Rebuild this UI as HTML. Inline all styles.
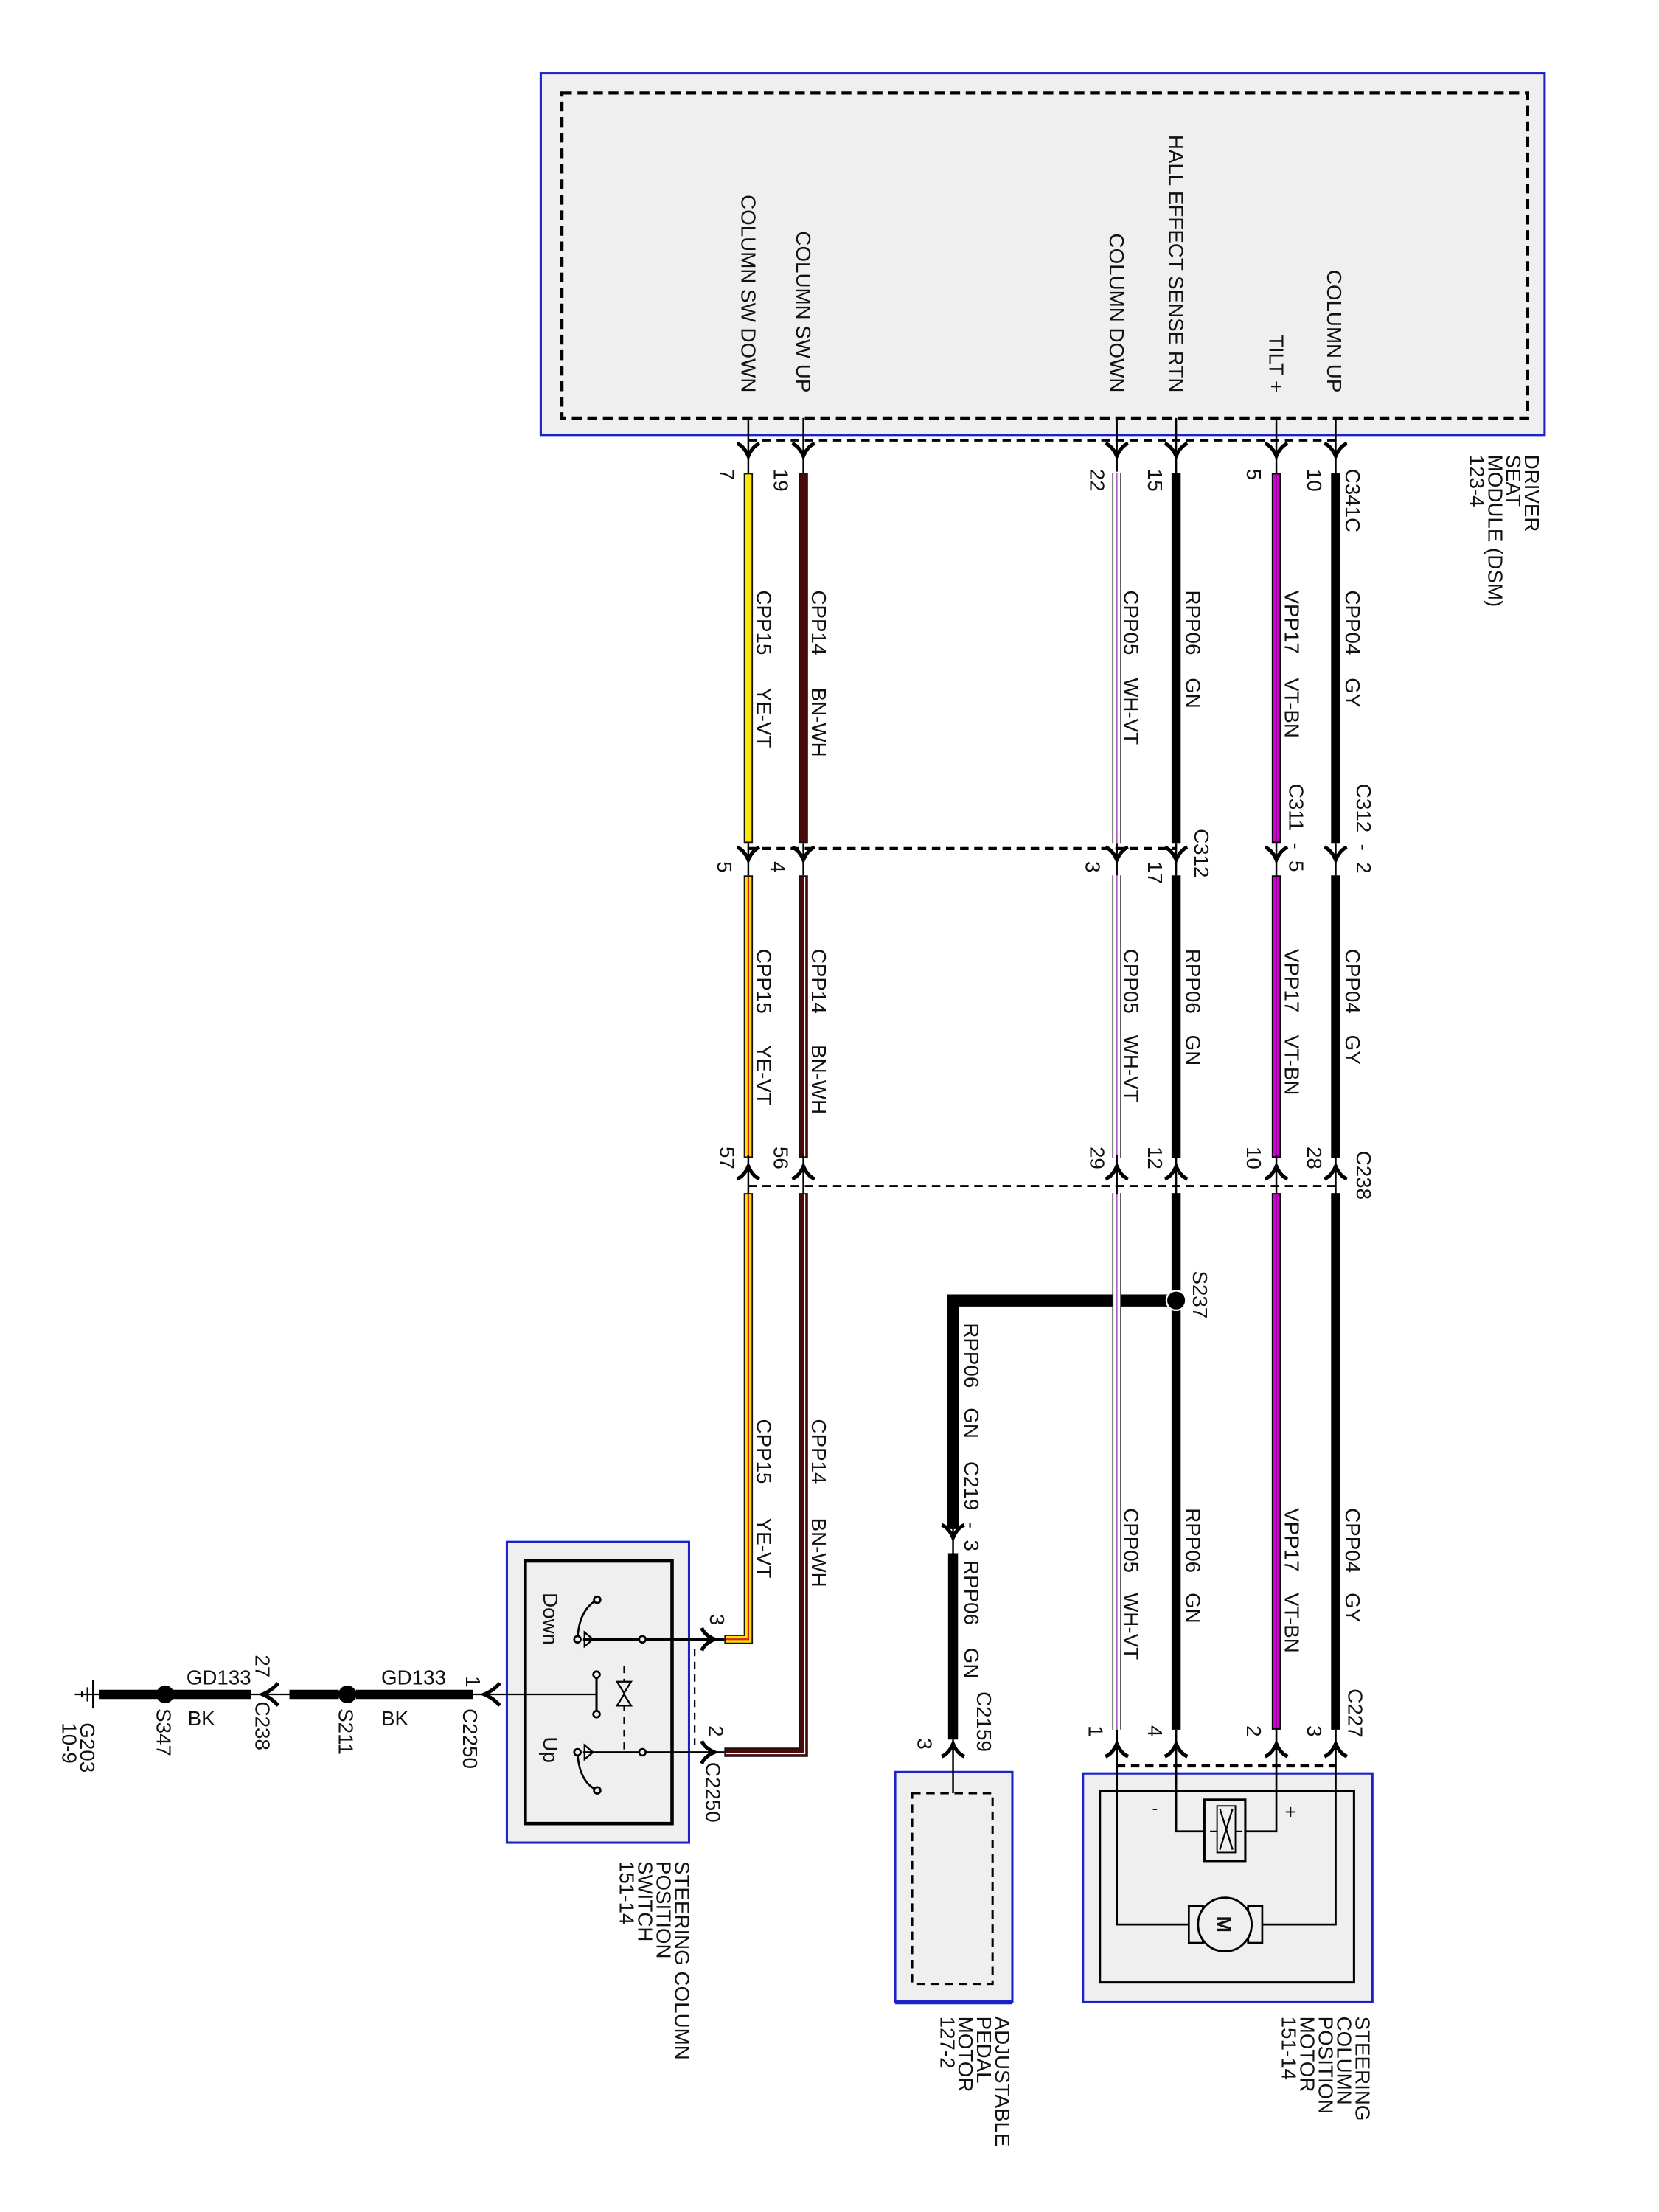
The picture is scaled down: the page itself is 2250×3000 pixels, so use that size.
<!DOCTYPE html>
<html><head><meta charset="utf-8"><style>
html,body{margin:0;padding:0;background:#fff;}
svg{display:block;}
text{font-family:"Liberation Sans",Arial,sans-serif;font-size:14.5px;fill:#111;}
</style></head><body>
<svg width="2250" height="3000" viewBox="0 0 1175 1566.6" preserveAspectRatio="none" xmlns="http://www.w3.org/2000/svg">
<rect x="0" y="0" width="1175" height="1567" fill="#fff"/>

<!-- Driver seat module -->
<rect x="383" y="52" width="711" height="256" fill="#efefef" stroke="#1a22c8" stroke-width="1.6"/>
<rect x="398" y="66" width="684" height="230" fill="none" stroke="#000" stroke-width="2.2" stroke-dasharray="7,4"/>
<g transform="translate(940,278) rotate(90)"><text text-anchor="end" x="0" y="0" transform="rotate(0)">COLUMN UP</text></g>
<text transform="translate(940,278) rotate(90)" text-anchor="end" style="display:none">x</text>
<text transform="translate(899,278) rotate(90)" text-anchor="end">TILT +</text>
<text transform="translate(828,278) rotate(90)" text-anchor="end">HALL EFFECT SENSE RTN</text>
<text transform="translate(786,278) rotate(90)" text-anchor="end">COLUMN DOWN</text>
<text transform="translate(564,278) rotate(90)" text-anchor="end">COLUMN SW UP</text>
<text transform="translate(525,278) rotate(90)" text-anchor="end">COLUMN SW DOWN</text>

<text transform="translate(1080,322) rotate(90)">DRIVER</text>
<text transform="translate(1067,322) rotate(90)">SEAT</text>
<text transform="translate(1054,322) rotate(90)">MODULE (DSM)</text>
<text transform="translate(1041,322) rotate(90)">123-4</text>

<!-- stems from module -->
<g stroke="#000" stroke-width="1.3">
<line x1="946" y1="296" x2="946" y2="336"/><line x1="904" y1="296" x2="904" y2="336"/>
<line x1="833" y1="296" x2="833" y2="336"/><line x1="791" y1="296" x2="791" y2="336"/>
<line x1="569" y1="296" x2="569" y2="336"/><line x1="530" y1="296" x2="530" y2="336"/>
</g>
<line x1="530" y1="312" x2="946" y2="312" stroke="#000" stroke-width="1.5" stroke-dasharray="6,4"/>
<!-- down arrows row 1 -->
<g fill="none" stroke="#000" stroke-width="2.6" stroke-linejoin="miter">
<path d="M938,314 Q943,316 946,323 Q949,316 954,314"/>
<path d="M896,314 Q901,316 904,323 Q907,316 912,314"/>
<path d="M825,314 Q830,316 833,323 Q836,316 841,314"/>
<path d="M783,314 Q788,316 791,323 Q794,316 799,314"/>
<path d="M561,314 Q566,316 569,323 Q572,316 577,314"/>
<path d="M522,314 Q527,316 530,323 Q533,316 538,314"/>
</g>

<text transform="translate(953,332) rotate(90)">C341C</text>
<text transform="translate(926,332) rotate(90)">10</text>
<text transform="translate(883,332) rotate(90)">5</text>
<text transform="translate(813,332) rotate(90)">15</text>
<text transform="translate(772,332) rotate(90)">22</text>
<text transform="translate(548,332) rotate(90)">19</text>
<text transform="translate(510,332) rotate(90)">7</text>

<!-- WIRES -->
<!-- col up (black) -->
<g stroke="#000" stroke-width="6.5" fill="none">
<line x1="946" y1="335" x2="946" y2="597"/><line x1="946" y1="620" x2="946" y2="820"/><line x1="946" y1="845" x2="946" y2="1225"/>
<line x1="833" y1="335" x2="833" y2="597"/><line x1="833" y1="620" x2="833" y2="820"/><line x1="833" y1="845" x2="833" y2="1225"/>
<polyline points="833,921 675,921 675,1083" stroke-width="8.5"/>
<line x1="675" y1="1100" x2="675" y2="1232" stroke-width="7"/>
</g>
<!-- tilt VT-BN -->
<g fill="none">
<g stroke="#000" stroke-width="6.5"><line x1="904" y1="335" x2="904" y2="597"/><line x1="904" y1="620" x2="904" y2="820"/><line x1="904" y1="845" x2="904" y2="1225"/></g>
<g stroke="#d000d0" stroke-width="4.5"><line x1="904" y1="336" x2="904" y2="596"/><line x1="904" y1="621" x2="904" y2="819"/><line x1="904" y1="846" x2="904" y2="1224"/></g>
<g stroke="#7a0a7a" stroke-width="0.7"><line x1="904" y1="336" x2="904" y2="596"/><line x1="904" y1="621" x2="904" y2="819"/><line x1="904" y1="846" x2="904" y2="1224"/></g>
</g>
<!-- col down WH-VT -->
<g fill="none">
<g stroke="#222" stroke-width="6.5"><line x1="791" y1="335" x2="791" y2="597"/><line x1="791" y1="620" x2="791" y2="820"/><line x1="791" y1="845" x2="791" y2="1225"/></g>
<g stroke="#fff" stroke-width="4.8"><line x1="791" y1="334" x2="791" y2="598"/><line x1="791" y1="619" x2="791" y2="821"/><line x1="791" y1="844" x2="791" y2="1226"/></g>
<g stroke="#b060c0" stroke-width="1"><line x1="791" y1="335" x2="791" y2="597"/><line x1="791" y1="620" x2="791" y2="820"/><line x1="791" y1="845" x2="791" y2="1225"/></g>
</g>
<!-- sw up BN-WH -->
<g fill="none">
<g stroke="#111" stroke-width="6.5"><line x1="569" y1="335" x2="569" y2="597"/><line x1="569" y1="620" x2="569" y2="820"/><polyline points="569,845 569,1241 513,1241"/></g>
<g stroke="#4e0a0a" stroke-width="4.5"><line x1="569" y1="336" x2="569" y2="596"/><line x1="569" y1="621" x2="569" y2="819"/><polyline points="569,846 569,1241 514,1241"/></g>
<g stroke="#fff" stroke-width="0.7"><line x1="570" y1="621" x2="570" y2="819"/><polyline points="570,846 570,1242 514,1242"/></g>
</g>
<!-- sw down YE-VT -->
<g fill="none">
<g stroke="#111" stroke-width="6.5"><line x1="530" y1="335" x2="530" y2="597"/><line x1="530" y1="620" x2="530" y2="820"/><polyline points="530,845 530,1161 513,1161"/></g>
<g stroke="#ffe600" stroke-width="4.6"><line x1="530" y1="336" x2="530" y2="596"/><line x1="530" y1="621" x2="530" y2="819"/><polyline points="530,846 530,1161 514,1161"/></g>
<g stroke="#e02020" stroke-width="1.2"><line x1="530" y1="621" x2="530" y2="819"/><polyline points="530,846 530,1161 514,1161"/></g>
</g>

<!-- segment 1 labels -->
<text transform="translate(953,418) rotate(90)">CPP04</text><text transform="translate(953,480) rotate(90)">GY</text>
<text transform="translate(910,418) rotate(90)">VPP17</text><text transform="translate(910,480) rotate(90)">VT-BN</text>
<text transform="translate(840,418) rotate(90)">RPP06</text><text transform="translate(840,480) rotate(90)">GN</text>
<text transform="translate(796,418) rotate(90)">CPP05</text><text transform="translate(796,480) rotate(90)">WH-VT</text>
<text transform="translate(575,418) rotate(90)">CPP14</text><text transform="translate(575,487) rotate(90)">BN-WH</text>
<text transform="translate(536,418) rotate(90)">CPP15</text><text transform="translate(536,487) rotate(90)">YE-VT</text>

<text transform="translate(961,555) rotate(90)" xml:space="preserve">C312  -  2</text>
<text transform="translate(913,555) rotate(90)" xml:space="preserve">C311  -  5</text>
<text transform="translate(846,587) rotate(90)">C312</text>

<!-- C312 connectors -->
<g stroke="#000" stroke-width="1.3">
<line x1="946" y1="597" x2="946" y2="620"/><line x1="904" y1="597" x2="904" y2="620"/><line x1="833" y1="597" x2="833" y2="620"/><line x1="791" y1="597" x2="791" y2="620"/><line x1="569" y1="597" x2="569" y2="620"/><line x1="530" y1="597" x2="530" y2="620"/>
</g>
<line x1="530" y1="601" x2="833" y2="601" stroke="#000" stroke-width="2.2" stroke-dasharray="6,4"/>
<g fill="none" stroke="#000" stroke-width="2.6">
<path d="M938,600 Q943,602 946,609 Q949,602 954,600"/>
<path d="M896,600 Q901,602 904,609 Q907,602 912,600"/>
<path d="M825,600 Q830,602 833,609 Q836,602 841,600"/>
<path d="M783,600 Q788,602 791,609 Q794,602 799,600"/>
<path d="M561,600 Q566,602 569,609 Q572,602 577,600"/>
<path d="M522,600 Q527,602 530,609 Q533,602 538,600"/>
</g>
<text transform="translate(813,610) rotate(90)">17</text>
<text transform="translate(769,610) rotate(90)">3</text>
<text transform="translate(546,610) rotate(90)">4</text>
<text transform="translate(508,610) rotate(90)">5</text>

<!-- segment 2 labels -->
<text transform="translate(953,672) rotate(90)">CPP04</text><text transform="translate(953,733) rotate(90)">GY</text>
<text transform="translate(910,672) rotate(90)">VPP17</text><text transform="translate(910,733) rotate(90)">VT-BN</text>
<text transform="translate(840,672) rotate(90)">RPP06</text><text transform="translate(840,733) rotate(90)">GN</text>
<text transform="translate(796,672) rotate(90)">CPP05</text><text transform="translate(796,733) rotate(90)">WH-VT</text>
<text transform="translate(575,672) rotate(90)">CPP14</text><text transform="translate(575,740) rotate(90)">BN-WH</text>
<text transform="translate(536,672) rotate(90)">CPP15</text><text transform="translate(536,740) rotate(90)">YE-VT</text>

<!-- C238 connectors (up) -->
<g stroke="#000" stroke-width="1.3">
<line x1="946" y1="818" x2="946" y2="846"/><line x1="904" y1="818" x2="904" y2="846"/><line x1="833" y1="818" x2="833" y2="846"/><line x1="791" y1="818" x2="791" y2="846"/><line x1="569" y1="818" x2="569" y2="846"/><line x1="530" y1="818" x2="530" y2="846"/>
</g>
<line x1="530" y1="840" x2="946" y2="840" stroke="#000" stroke-width="1.5" stroke-dasharray="6,4"/>
<g fill="none" stroke="#000" stroke-width="2.6">
<path d="M938,835 Q943,833 946,826 Q949,833 954,835"/>
<path d="M896,835 Q901,833 904,826 Q907,833 912,835"/>
<path d="M825,835 Q830,833 833,826 Q836,833 841,835"/>
<path d="M783,835 Q788,833 791,826 Q794,833 799,835"/>
<path d="M561,835 Q566,833 569,826 Q572,833 577,835"/>
<path d="M522,835 Q527,833 530,826 Q533,833 538,835"/>
</g>
<text transform="translate(961,815) rotate(90)">C238</text>
<text transform="translate(926,812) rotate(90)">28</text>
<text transform="translate(883,812) rotate(90)">10</text>
<text transform="translate(813,812) rotate(90)">12</text>
<text transform="translate(772,812) rotate(90)">29</text>
<text transform="translate(548,812) rotate(90)">56</text>
<text transform="translate(510,812) rotate(90)">57</text>

<!-- S237 -->
<circle cx="833" cy="921" r="7.5" fill="#fff"/>
<circle cx="833" cy="921" r="6.3" fill="#000"/>
<text transform="translate(845,900) rotate(90)">S237</text>

<!-- pedal wire labels -->
<text transform="translate(683,937) rotate(90)">RPP06</text>
<text transform="translate(683,997) rotate(90)">GN</text>
<text transform="translate(683,1035) rotate(90)" xml:space="preserve">C219  -  3</text>
<text transform="translate(683,1105) rotate(90)">RPP06</text>
<text transform="translate(683,1167) rotate(90)">GN</text>
<text transform="translate(692,1198) rotate(90)">C2159</text>
<text transform="translate(650,1231) rotate(90)">3</text>
<line x1="675" y1="1080" x2="675" y2="1103" stroke="#000" stroke-width="1.3"/>
<path d="M667,1080 Q672,1082 675,1089 Q678,1082 683,1080" fill="none" stroke="#000" stroke-width="2.6"/>

<!-- segment 3 labels -->
<text transform="translate(953,1068) rotate(90)">CPP04</text><text transform="translate(953,1128) rotate(90)">GY</text>
<text transform="translate(910,1068) rotate(90)">VPP17</text><text transform="translate(910,1128) rotate(90)">VT-BN</text>
<text transform="translate(840,1068) rotate(90)">RPP06</text><text transform="translate(840,1128) rotate(90)">GN</text>
<text transform="translate(796,1068) rotate(90)">CPP05</text><text transform="translate(796,1128) rotate(90)">WH-VT</text>
<text transform="translate(575,1005) rotate(90)">CPP14</text><text transform="translate(575,1075) rotate(90)">BN-WH</text>
<text transform="translate(536,1005) rotate(90)">CPP15</text><text transform="translate(536,1075) rotate(90)">YE-VT</text>

<!-- C227 -->
<text transform="translate(955,1196) rotate(90)">C227</text>
<text transform="translate(926,1222) rotate(90)">3</text>
<text transform="translate(883,1222) rotate(90)">2</text>
<text transform="translate(813,1222) rotate(90)">4</text>
<text transform="translate(771,1222) rotate(90)">1</text>
<line x1="791" y1="1250.7" x2="946" y2="1250.7" stroke="#000" stroke-width="2.2" stroke-dasharray="6,4"/>
<g fill="none" stroke="#000" stroke-width="2.6">
<path d="M938,1244 Q943,1242 946,1235 Q949,1242 954,1244"/>
<path d="M896,1244 Q901,1242 904,1235 Q907,1242 912,1244"/>
<path d="M825,1244 Q830,1242 833,1235 Q836,1242 841,1244"/>
<path d="M783,1244 Q788,1242 791,1235 Q794,1242 799,1244"/>
<path d="M667,1244 Q672,1242 675,1235 Q678,1242 683,1244"/>
</g>

<!-- Steering column motor -->
<rect x="767" y="1256" width="205" height="162" fill="#efefef" stroke="#1a22c8" stroke-width="1.6"/>
<rect x="779" y="1268.5" width="180" height="135.5" fill="none" stroke="#000" stroke-width="1.6"/>
<g fill="none" stroke="#000" stroke-width="1.4">
<polyline points="946,1225 946,1363 894,1363"/>
<polyline points="791,1225 791,1363 842,1363"/>
<polyline points="904,1225 904,1297 882,1297"/>
<polyline points="833,1225 833,1297 853,1297"/>
</g>
<rect x="853" y="1274.6" width="29" height="43.4" fill="#efefef" stroke="#000" stroke-width="1.6"/>
<rect x="862" y="1279" width="13" height="33" fill="none" stroke="#000" stroke-width="1"/>
<path d="M864,1281 L873,1310 M873,1281 L864,1310" stroke="#000" stroke-width="1.2"/>
<line x1="857" y1="1297" x2="862" y2="1297" stroke="#000"/><line x1="875" y1="1297" x2="880" y2="1297" stroke="#000"/>
<rect x="842" y="1350" width="10" height="26" fill="#efefef" stroke="#000" stroke-width="1.4"/>
<rect x="884" y="1350" width="10" height="26" fill="#efefef" stroke="#000" stroke-width="1.4"/>
<circle cx="867.5" cy="1363" r="19" fill="#efefef" stroke="#000" stroke-width="1.5"/>
<text transform="translate(862,1357) rotate(90)" style="font-weight:bold;font-size:14px">M</text>
<text x="816" y="1285" style="font-size:12px">-</text>
<text x="910" y="1288" style="font-size:14px">+</text>
<text transform="translate(960,1428) rotate(90)">STEERING</text>
<text transform="translate(947,1428) rotate(90)">COLUMN</text>
<text transform="translate(934,1428) rotate(90)">POSITION</text>
<text transform="translate(921,1428) rotate(90)">MOTOR</text>
<text transform="translate(908,1428) rotate(90)">151-14</text>

<!-- Adjustable pedal motor -->
<rect x="634" y="1255" width="83" height="163" fill="#efefef" stroke="#1a22c8" stroke-width="1.6"/>
<line x1="634" y1="1418" x2="717" y2="1418" stroke="#1a22c8" stroke-width="3"/>
<rect x="646" y="1270" width="57" height="135" fill="none" stroke="#000" stroke-width="1.6" stroke-dasharray="6,4"/>
<line x1="675" y1="1232" x2="675" y2="1270" stroke="#000" stroke-width="1.3"/>
<text transform="translate(705,1428) rotate(90)">ADJUSTABLE</text>
<text transform="translate(692,1428) rotate(90)">PEDAL</text>
<text transform="translate(679,1428) rotate(90)">MOTOR</text>
<text transform="translate(666,1428) rotate(90)">127-2</text>

<!-- Steering column position switch -->
<rect x="359" y="1092" width="129" height="213" fill="#efefef" stroke="#1a22c8" stroke-width="1.6"/>
<rect x="372" y="1105.5" width="104" height="186" fill="none" stroke="#000" stroke-width="2.4"/>
<line x1="492" y1="1168" x2="492" y2="1240" stroke="#000" stroke-width="1.2" stroke-dasharray="5,4"/>
<g stroke="#000" fill="none">
<line x1="413" y1="1161" x2="513" y2="1161" stroke-width="2"/>
<line x1="413" y1="1241" x2="513" y2="1241" stroke-width="1.4"/>
<path d="M409,1161 Q410,1140 423,1133" stroke-width="1.4"/>
<path d="M409,1241 Q410,1262 423,1268" stroke-width="1.4"/>
<path d="M414,1156 L420,1161 L414,1166 Z" stroke-width="1.2"/>
<path d="M414,1236 L420,1241 L414,1246 Z" stroke-width="1.2"/>
<line x1="422.5" y1="1186" x2="422.5" y2="1214" stroke-width="1.6"/>
<line x1="442" y1="1180" x2="442" y2="1241" stroke-width="1" stroke-dasharray="5,4"/>
<path d="M437,1191 L447,1191 L442,1199 Z M437,1208 L447,1208 L442,1200 Z" stroke-width="1.2" fill="#efefef"/>
<line x1="350" y1="1200" x2="422.5" y2="1200" stroke-width="1.2"/>
</g>
<g fill="#efefef" stroke="#000" stroke-width="1.4">
<circle cx="455" cy="1161" r="2.3"/><circle cx="455" cy="1241" r="2.3"/>
<circle cx="409" cy="1161" r="2.3"/><circle cx="409" cy="1241" r="2.3"/>
<circle cx="423" cy="1133" r="2.3"/><circle cx="423" cy="1268" r="2.3"/>
<circle cx="422.5" cy="1186" r="2.3"/><circle cx="422.5" cy="1214" r="2.3"/>
</g>
<text transform="translate(385,1128) rotate(90)">Down</text>
<text transform="translate(385,1230) rotate(90)">Up</text>
<g fill="none" stroke="#000" stroke-width="2.6">
<path d="M497,1153 Q499,1158 506,1161 Q499,1164 497,1169"/>
<path d="M497,1233 Q499,1238 506,1241 Q499,1244 497,1249"/>
</g>
<text transform="translate(503,1143) rotate(90)">3</text>
<text transform="translate(502,1222) rotate(90)">2</text>
<text transform="translate(500,1248) rotate(90)">C2250</text>
<text transform="translate(478,1318) rotate(90)">STEERING COLUMN</text>
<text transform="translate(465,1318) rotate(90)">POSITION</text>
<text transform="translate(452,1318) rotate(90)">SWITCH</text>
<text transform="translate(439,1318) rotate(90)">151-14</text>

<!-- Ground chain -->
<g stroke="#000">
<line x1="66" y1="1200" x2="350" y2="1200" stroke-width="1.2"/>
<line x1="70" y1="1200" x2="112" y2="1200" stroke-width="6.5"/>
<line x1="122" y1="1200" x2="178" y2="1200" stroke-width="6.5"/>
<line x1="205" y1="1200" x2="240" y2="1200" stroke-width="6.5"/>
<line x1="252" y1="1200" x2="335" y2="1200" stroke-width="6.5"/>
<line x1="53" y1="1200" x2="66" y2="1200" stroke-width="1.2"/>
<line x1="66" y1="1190" x2="66" y2="1210" stroke-width="1.4"/>
<line x1="62" y1="1195" x2="62" y2="1205" stroke-width="1.2"/>
<line x1="58" y1="1198" x2="58" y2="1202" stroke-width="1.2"/>
</g>
<circle cx="117" cy="1200" r="6.3" fill="#000"/>
<circle cx="246" cy="1200" r="6.3" fill="#000"/>
<g fill="none" stroke="#000" stroke-width="2.6">
<path d="M354,1192 Q350,1197 343,1200 Q350,1203 354,1208"/>
<path d="M197,1192 Q193,1197 186,1200 Q193,1203 197,1208"/>
</g>
<text x="270" y="1193">GD133</text>
<text x="132" y="1193">GD133</text>
<text x="270" y="1222">BK</text>
<text x="133" y="1222">BK</text>
<text transform="translate(330,1187) rotate(90)">1</text>
<text transform="translate(328,1210) rotate(90)">C2250</text>
<text transform="translate(181,1172) rotate(90)">27</text>
<text transform="translate(181,1205) rotate(90)">C238</text>
<text transform="translate(240,1210) rotate(90)">S211</text>
<text transform="translate(111,1210) rotate(90)">S347</text>
<text transform="translate(57,1220) rotate(90)">G203</text>
<text transform="translate(44,1220) rotate(90)">10-9</text>
</svg>
</body></html>
